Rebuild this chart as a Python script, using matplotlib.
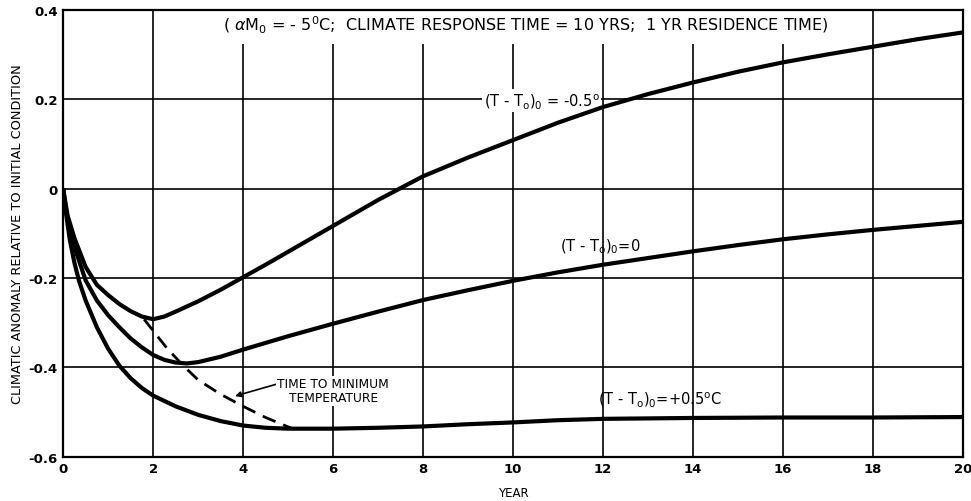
import matplotlib
matplotlib.use("Agg")
import matplotlib.pyplot as plt
from matplotlib.patches import Rectangle

plt.rcParams['font.family'] = ['DejaVu Sans']

# climatic anomaly curves for three initial temperature departures
years_a = [0, 0.1, 0.25, 0.5, 0.75, 1, 1.25, 1.5, 1.75, 2, 2.25, 2.5, 3, 3.5, 4, 4.5, 5,
           6, 7, 8, 9, 10, 11, 12, 13, 14, 15, 16, 17, 18, 19, 20]
anom_a = [0, -0.06, -0.11, -0.175, -0.215, -0.238, -0.258, -0.274, -0.286, -0.292, -0.286,
          -0.275, -0.252, -0.226, -0.198, -0.17, -0.141, -0.083, -0.025, 0.028, 0.07,
          0.109, 0.148, 0.183, 0.212, 0.238, 0.262, 0.283, 0.301, 0.318, 0.335, 0.35]

years_b = [0, 0.1, 0.25, 0.5, 0.75, 1, 1.25, 1.5, 1.75, 2, 2.25, 2.5, 2.75, 3, 3.5, 4, 4.5,
           5, 5.5, 6, 7, 8, 9, 10, 11, 12, 13, 14, 15, 16, 17, 18, 19, 20]
anom_b = [0, -0.07, -0.13, -0.205, -0.25, -0.283, -0.31, -0.335, -0.355, -0.372, -0.383,
          -0.389, -0.391, -0.388, -0.376, -0.36, -0.345, -0.33, -0.316, -0.302, -0.275,
          -0.249, -0.227, -0.206, -0.187, -0.17, -0.155, -0.14, -0.126, -0.113, -0.102,
          -0.092, -0.083, -0.074]

years_c = [0, 0.05, 0.15, 0.25, 0.35, 0.5, 0.75, 1, 1.25, 1.5, 1.75, 2, 2.5, 3, 3.5, 4,
           4.5, 5, 6, 7, 8, 9, 10, 11, 12, 14, 16, 18, 20]
anom_c = [0, -0.045, -0.115, -0.165, -0.205, -0.25, -0.31, -0.358, -0.396, -0.424, -0.446,
          -0.463, -0.487, -0.506, -0.52, -0.53, -0.535, -0.537, -0.537, -0.535, -0.532,
          -0.527, -0.523, -0.518, -0.515, -0.513, -0.512, -0.512, -0.511]

# locus of the minimum temperature
years_min = [1.8, 2.0, 2.3, 2.64, 3.0, 3.5, 4.0, 4.5, 5.0, 5.1]
anom_min = [-0.292, -0.318, -0.356, -0.393, -0.428, -0.46, -0.487, -0.512, -0.533, -0.537]

x_ticks = [0, 2, 4, 6, 8, 10, 12, 14, 16, 18, 20]
y_ticks = [-0.6, -0.4, -0.2, 0, 0.2, 0.4]
y_tick_labels = ['-0.6', '-0.4', '-0.2', '0', '0.2', '0.4']

fig = plt.figure(figsize=(9.71, 5.02), dpi=100)
ax = fig.add_axes([0.065, 0.088, 0.927, 0.890])
ax.set_xlim(0, 20)
ax.set_ylim(-0.6, 0.4)

ax.set_xticks(x_ticks)
ax.set_yticks(y_ticks)
ax.set_yticklabels(y_tick_labels)
ax.tick_params(length=0, labelsize=9.5, pad=4)
for lab in ax.get_xticklabels() + ax.get_yticklabels():
    lab.set_fontweight('bold')
ax.grid(True, color='black', linewidth=1.2, zorder=1)
for sp in ax.spines.values():
    sp.set_linewidth(1.6)

# blank strip under the heading
ax.add_patch(Rectangle((3.3, 0.325), 13.9, 0.075, facecolor='white', edgecolor='none',
                       zorder=2))

lw = 3.0
ax.plot(years_a, anom_a, color='black', linewidth=lw, zorder=4, solid_capstyle='butt')
ax.plot(years_b, anom_b, color='black', linewidth=lw, zorder=4, solid_capstyle='butt')
ax.plot(years_c, anom_c, color='black', linewidth=lw, zorder=4, solid_capstyle='butt')
ax.plot(years_min, anom_min, color='black', linewidth=2.0, dashes=(5, 3), zorder=4)

ax.text(10.27, 0.368,
        r'( $\alpha$M$_{\mathregular{0}}$ = - 5$^{\mathregular{0}}$C;  CLIMATE RESPONSE TIME = 10 YRS;  1 YR RESIDENCE TIME)',
        ha='center', va='center', fontsize=11.5, zorder=5)

box = dict(facecolor='white', edgecolor='none', pad=1.5)
ax.text(10.63, 0.198, r'(T - T$_{\mathregular{o}}$)$_{\mathregular{0}}$ = -0.5$^{\mathregular{o}}$',
        ha='center', va='center', fontsize=10.5, bbox=box, zorder=3)
ax.text(11.93, -0.128, r'(T - T$_{\mathregular{o}}$)$_{\mathregular{0}}$=0',
        ha='center', va='center', fontsize=10.5, zorder=3)
ax.text(13.27, -0.47, r'(T - T$_{\mathregular{o}}$)$_{\mathregular{0}}$=+0.5$^{\mathregular{o}}$C',
        ha='center', va='center', fontsize=10.5, zorder=3)

ax.annotate('TIME TO MINIMUM\nTEMPERATURE', xy=(3.82, -0.464), xytext=(6.0, -0.452),
            ha='center', va='center', fontsize=8.8, linespacing=1.1,
            arrowprops=dict(arrowstyle='-|>', color='black', lw=1.2,
                            shrinkA=0, shrinkB=0, mutation_scale=8,
                            relpos=(0.0, 0.75)),
            bbox=dict(facecolor='white', edgecolor='none', pad=1),
            zorder=3)

ax.set_xlabel('YEAR', fontsize=8.5, labelpad=8)
ax.set_ylabel('CLIMATIC ANOMALY RELATIVE TO INITIAL CONDITION', fontsize=9.3, labelpad=3)

fig.savefig('out.png', dpi=100)
